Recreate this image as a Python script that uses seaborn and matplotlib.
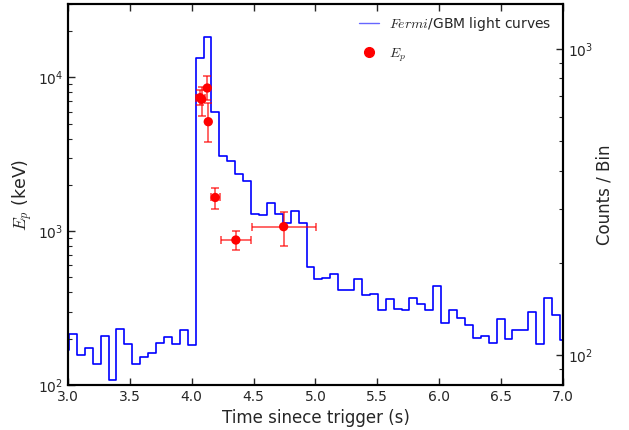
import matplotlib
matplotlib.use("Agg")
import matplotlib.pyplot as plt
from matplotlib.lines import Line2D
from matplotlib.ticker import LogLocator, NullFormatter
import seaborn as sns
import pandas as pd

# Fermi/GBM light curve, 64 ms bins (bin start times, s)
bin_start = [2.944, 3.008, 3.072, 3.136, 3.200, 3.264, 3.328, 3.392,
             3.456, 3.520, 3.584, 3.648, 3.712, 3.776, 3.840, 3.904,
             3.968, 4.032, 4.096, 4.160, 4.224, 4.288, 4.352, 4.416,
             4.480, 4.544, 4.608, 4.672, 4.736, 4.800, 4.864, 4.928,
             4.992, 5.056, 5.120, 5.184, 5.248, 5.312, 5.376, 5.440,
             5.504, 5.568, 5.632, 5.696, 5.760, 5.824, 5.888, 5.952,
             6.016, 6.080, 6.144, 6.208, 6.272, 6.336, 6.400, 6.464,
             6.528, 6.592, 6.656, 6.720, 6.784, 6.848, 6.912, 6.976]
bin_end_last = 7.040
counts = [104, 117, 100, 106, 94, 116, 83, 122,
          109, 94, 99, 102, 110, 115, 109, 121,
          108, 936, 1091, 620, 448, 431, 391, 369,
          290, 286, 313, 290, 271, 295, 271, 194,
          178, 179, 184, 163, 163, 177, 157, 159,
          140, 153, 142, 141, 154, 147, 141, 168,
          127, 141, 132, 126, 114, 116, 110, 131,
          113, 121, 121, 138, 109, 154, 135, 112]

# Peak energy per time slice
ep_time = [4.068, 4.080, 4.126, 4.134, 4.190, 4.357, 4.743]
ep_time_err = [0.036, 0.016, 0.008, 0.008, 0.037, 0.123, 0.259]
ep_value = [7380, 7200, 8530, 5150, 1656, 876, 1070]
ep_err_lo = [800, 1590, 1370, 1330, 261, 121, 269]
ep_err_hi = [900, 1510, 1730, 1640, 245, 132, 257]

x_ticks = [3.0, 3.5, 4.0, 4.5, 5.0, 5.5, 6.0, 6.5, 7.0]

sns.set_style("ticks")
plt.rcParams.update({
    "font.family": ["DejaVu Sans"],
    "xtick.direction": "in",
    "ytick.direction": "in",
    "xtick.top": True,
    "axes.linewidth": 1.5,
    "xtick.major.width": 1.0,
    "ytick.major.width": 1.0,
    "ytick.minor.width": 0.8,
    "xtick.major.size": 5,
    "ytick.major.size": 5,
    "ytick.minor.size": 3,
    "mathtext.fontset": "cm",
})

fig = plt.figure(figsize=(6.29, 4.30), dpi=100)
ax = fig.add_axes([0.108, 0.1047, 0.787, 0.886])
ax2 = ax.twinx()

lc = pd.DataFrame({"time": bin_start + [bin_end_last],
                   "counts": counts + [counts[-1]]})
sns.lineplot(data=lc, x="time", y="counts", ax=ax2, color="blue",
             linewidth=1.2, drawstyle="steps-post", estimator=None,
             sort=False, legend=False)

ax.errorbar(ep_time, ep_value, xerr=ep_time_err,
            yerr=[ep_err_lo, ep_err_hi], fmt="none", ecolor="red",
            elinewidth=1.2, capsize=3, capthick=1.2, alpha=0.7)
sns.scatterplot(x=ep_time, y=ep_value, ax=ax, color="red", s=45,
                edgecolor="none", zorder=5, legend=False)

ax.set_zorder(ax2.get_zorder() + 1)
ax.patch.set_visible(False)

ax.set_yscale("log")
ax2.set_yscale("log")
ax.set_xlim(3.0, 7.0)
ax.set_ylim(100, 3e4)
ax2.set_ylim(80, 1400)
ax.set_xticks(x_ticks)
ax.set_xticklabels([f"{t:.1f}" for t in x_ticks])
for a in (ax, ax2):
    a.yaxis.set_minor_locator(LogLocator(base=10, subs=range(2, 10), numticks=20))
    a.yaxis.set_minor_formatter(NullFormatter())
    a.tick_params(axis="both", which="major", labelsize=10)
ax.tick_params(axis="x", top=True)
ax2.tick_params(axis="x", top=False)

ax.set_xlabel("Time sinece trigger (s)", fontsize=12)
ax.set_ylabel("$E_p$ (keV)", fontsize=12.5, labelpad=2)
ax2.set_ylabel("Counts / Bin", fontsize=12, labelpad=2)

handles = [Line2D([], [], color="blue", linewidth=1.0, alpha=0.6),
           Line2D([], [], color="red", marker="o", linestyle="none",
                  markersize=7)]
labels = ["$Fermi$/GBM light curves", "$E_p$"]
ax.legend(handles, labels, loc="upper right", frameon=False, fontsize=10,
          labelspacing=0.95, handlelength=1.45, handletextpad=0.75,
          borderaxespad=0.4)

for a in (ax, ax2):
    for s in a.spines.values():
        s.set_color("black")

fig.savefig("out.png", dpi=100)
